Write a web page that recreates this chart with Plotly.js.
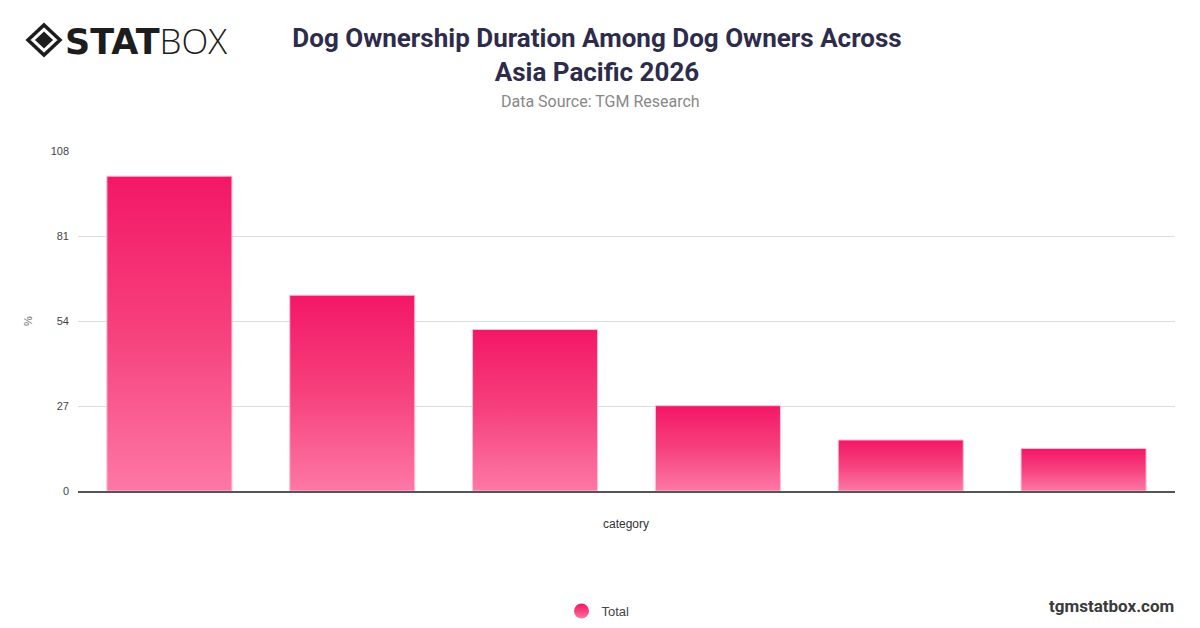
<!DOCTYPE html>
<html>
<head>
<meta charset="utf-8">
<script src="https://cdn.plot.ly/plotly-3.0.1.min.js"></script>
<style>
  html, body { margin: 0; padding: 0; background: #fff; }
  #chart { width: 1200px; height: 628px; }
</style>
</head>
<body>
<div id="chart"></div>
<script>
// data (category labels are not shown on the chart)
var categories = ['Group 1', 'Group 2', 'Group 3', 'Group 4', 'Group 5', 'Group 6'];
var totalValues = [100, 62.2, 51.3, 27.1, 16.2, 13.5];
var yTicks = [0, 27, 54, 81, 108];
var seriesName = 'Total';

var W = 1200, H = 628;
var M = { l: 78, r: 25, t: 151, b: 137, autoexpand: false };

// pixel -> paper helpers for the decorations around the plot
function px(x) { return (x - M.l) / (W - M.l - M.r); }
function py(y) { return (H - M.b - y) / (H - M.t - M.b); }

var bars = {
    type: 'bar',
    x: categories,
    y: totalValues,
    name: seriesName,
    showlegend: false,
    marker: {
        color: '#f5307a',
        line: { color: '#ffc0d8', width: 1 }
    },
    hoverinfo: 'y'
};

// dummy trace so the legend gets a round swatch
var legendDot = {
    type: 'scatter',
    mode: 'markers',
    x: [null],
    y: [null],
    name: seriesName,
    marker: { symbol: 'circle', size: 15, color: '#f5307a' }
};

// logo diamond
var cx = 44, cy = 40;
function diamond(r, ry) {
    return 'M' + px(cx) + ',' + py(cy - ry) +
        ' L' + px(cx + r) + ',' + py(cy) +
        ' L' + px(cx) + ',' + py(cy + ry) +
        ' L' + px(cx - r) + ',' + py(cy) + ' Z';
}

var sans = '"Liberation Sans", Arial, sans-serif';

var layout = {
    width: W,
    height: H,
    margin: M,
    paper_bgcolor: '#ffffff',
    plot_bgcolor: '#ffffff',
    font: { family: sans, color: '#444' },
    title: {
        text: '<b>Dog Ownership Duration Among Dog Owners Across<br>Asia Pacific 2026</b>',
        font: { family: 'Roboto, sans-serif', size: 26, color: '#2e2c4b' },
        x: 597 / W,
        xanchor: 'center',
        y: 1 - 47 / H,
        yanchor: 'middle'
    },
    bargap: 0.316,
    xaxis: {
        type: 'category',
        showticklabels: false,
        showgrid: false,
        showline: true,
        linecolor: '#555',
        linewidth: 1.5,
        ticks: '',
        fixedrange: true
    },
    yaxis: {
        range: [0, 108],
        tickvals: yTicks,
        ticktext: yTicks.map(String),
        showgrid: true,
        gridcolor: '#dddddd',
        gridwidth: 1,
        zeroline: false,
        showline: false,
        ticks: '',
        ticklabelstandoff: 8,
        tickfont: { family: sans, size: 11, color: '#444444' },
        fixedrange: true
    },
    showlegend: true,
    legend: {
        orientation: 'h',
        x: px(598),
        xanchor: 'center',
        y: py(611),
        yanchor: 'middle',
        font: { family: sans, size: 13, color: '#444' }
    },
    shapes: [
        {
            type: 'path', xref: 'paper', yref: 'paper',
            path: diamond(16, 15),
            line: { color: '#1d1d1d', width: 3.5 },
            fillcolor: 'rgba(0,0,0,0)'
        },
        {
            type: 'path', xref: 'paper', yref: 'paper',
            path: diamond(9, 8.5),
            line: { width: 0 },
            fillcolor: '#1d1d1d'
        }
    ],
    annotations: [
        {
            text: '<span style="font-family:\'DejaVu Sans\';font-weight:bold">STAT</span>' +
                  '<span style="font-family:\'Open Sans\';font-weight:300">BOX</span>',
            xref: 'paper', yref: 'paper',
            x: px(63), y: py(40),
            xanchor: 'left', yanchor: 'middle',
            showarrow: false,
            font: { family: '"DejaVu Sans", sans-serif', size: 35, color: '#1d1d1d' }
        },
        {
            text: 'Data Source: TGM Research',
            xref: 'paper', yref: 'paper',
            x: px(600), y: py(101),
            xanchor: 'center', yanchor: 'middle',
            showarrow: false,
            font: { family: 'Roboto, sans-serif', size: 16, color: '#888' }
        },
        {
            text: '%',
            xref: 'paper', yref: 'paper',
            x: px(28), y: py(321),
            xanchor: 'center', yanchor: 'middle',
            textangle: -90,
            showarrow: false,
            font: { size: 11, color: '#666' }
        },
        {
            text: 'category',
            xref: 'paper', yref: 'paper',
            x: px(626), y: py(524),
            xanchor: 'center', yanchor: 'middle',
            showarrow: false,
            font: { size: 12, color: '#333' }
        },
        {
            text: '<b>tgmstatbox.com</b>',
            xref: 'paper', yref: 'paper',
            x: px(1176), y: py(606),
            xanchor: 'right', yanchor: 'middle',
            showarrow: false,
            font: { family: 'Roboto, sans-serif', size: 17, color: '#3a3a3a' }
        }
    ]
};

Plotly.newPlot('chart', [bars, legendDot], layout, { displayModeBar: false, staticPlot: true })
.then(function(gd) {
    // vertical pink gradient on the bars and the legend swatch
    var svgNS = 'http://www.w3.org/2000/svg';
    var svg = gd.querySelector('svg.main-svg');
    var defs = svg.querySelector('defs') || svg.insertBefore(document.createElementNS(svgNS, 'defs'), svg.firstChild);
    var grad = document.createElementNS(svgNS, 'linearGradient');
    grad.setAttribute('id', 'barGrad');
    grad.setAttribute('x1', '0'); grad.setAttribute('y1', '0');
    grad.setAttribute('x2', '0'); grad.setAttribute('y2', '1');
    [['0%', '#f31766'], ['50%', '#f6417d'], ['100%', '#fd78a6']].forEach(function(s) {
        var stop = document.createElementNS(svgNS, 'stop');
        stop.setAttribute('offset', s[0]);
        stop.setAttribute('stop-color', s[1]);
        grad.appendChild(stop);
    });
    defs.appendChild(grad);
    gd.querySelectorAll('.barlayer .point path').forEach(function(p) {
        p.style.fill = 'url(#barGrad)';
    });
    gd.querySelectorAll('.legend .scatterpts path, .legend path.scatterpts').forEach(function(p) {
        p.style.fill = 'url(#barGrad)';
    });
});
</script>
</body>
</html>
